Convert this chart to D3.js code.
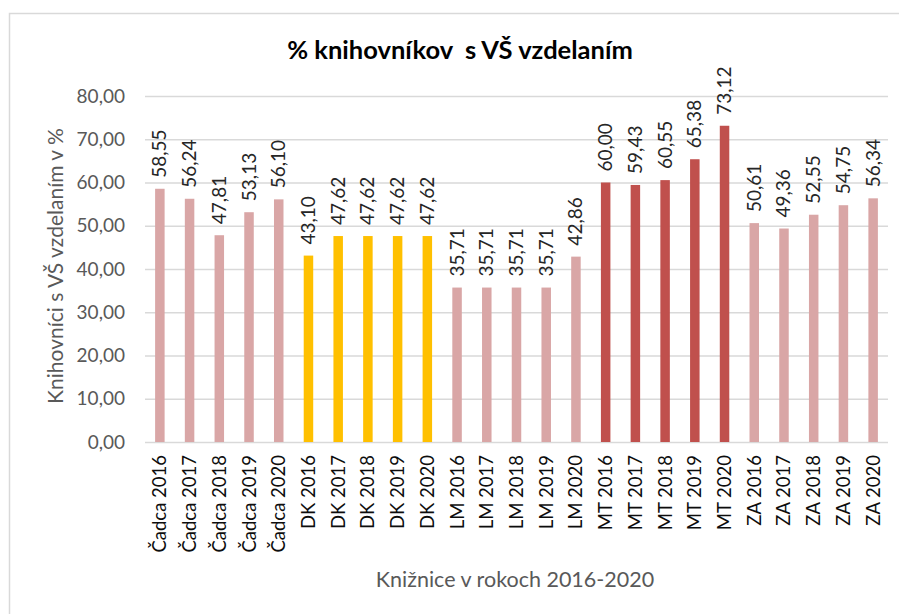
<!DOCTYPE html>
<html>
<head>
<meta charset="utf-8">
<script src="https://cdn.jsdelivr.net/npm/d3@7"></script>
<style>
  body { margin: 0; background: #fff; }
  text { font-family: Lato, "Open Sans", sans-serif; }
</style>
</head>
<body>
<div class="canvas"></div>
<script>
// data
let categories = [
    'Čadca 2016', 'Čadca 2017', 'Čadca 2018', 'Čadca 2019', 'Čadca 2020',
    'DK 2016', 'DK 2017', 'DK 2018', 'DK 2019', 'DK 2020',
    'LM 2016', 'LM 2017', 'LM 2018', 'LM 2019', 'LM 2020',
    'MT 2016', 'MT 2017', 'MT 2018', 'MT 2019', 'MT 2020',
    'ZA 2016', 'ZA 2017', 'ZA 2018', 'ZA 2019', 'ZA 2020'
]
let values = [
    58.55, 56.24, 47.81, 53.13, 56.10,
    43.10, 47.62, 47.62, 47.62, 47.62,
    35.71, 35.71, 35.71, 35.71, 42.86,
    60.00, 59.43, 60.55, 65.38, 73.12,
    50.61, 49.36, 52.55, 54.75, 56.34
]
let groups = ['Čadca', 'DK', 'LM', 'MT', 'ZA']
let groupColors = ['#D9A6A6', '#FFC000', '#D9A6A6', '#C0504D', '#D9A6A6']
let yTicks = [0, 10, 20, 30, 40, 50, 60, 70, 80]

let width = 899,
    height = 614,
    plotLeft = 145,
    plotRight = 888,
    plotTop = 96,
    plotBottom = 442

let svg = d3.select('.canvas').append('svg')
    .attr('width', width)
    .attr('height', height)

// chart border
svg.append('rect')
    .attr('x', 9.5).attr('y', 13.5)
    .attr('width', 1000).attr('height', 1000)
    .attr('fill', 'none')
    .attr('stroke', '#D9D9D9')
    .attr('stroke-width', 1.5)

let x = d3.scaleBand().domain(categories).range([plotLeft, plotRight])
let y = d3.scaleLinear().domain([0, 80]).range([plotBottom, plotTop])
let color = d3.scaleOrdinal().domain(groups).range(groupColors)
let fmt = v => d3.format('.2f')(v).replace('.', ',')

// grid + y labels
let yAxis = svg.append('g')
    .attr('transform', `translate(${plotLeft},0)`)
    .call(d3.axisLeft(y).tickValues(yTicks).tickSize(-(plotRight - plotLeft)).tickPadding(20).tickFormat(fmt))
yAxis.select('.domain').remove()
yAxis.selectAll('.tick line').attr('stroke', '#D9D9D9').attr('stroke-width', 1.3)
yAxis.selectAll('.tick text')
    .attr('fill', '#595959')
    .style('font-size', '19px')

// bars
let barW = 9.5
svg.selectAll('.bar')
    .data(categories)
    .enter().append('rect').classed('bar', true)
    .attr('x', d => x(d) + x.bandwidth() / 2 - barW / 2)
    .attr('width', barW)
    .attr('y', (d, i) => y(values[i]))
    .attr('height', (d, i) => plotBottom - y(values[i]))
    .attr('fill', d => color(d.split(' ')[0]))

// value labels
svg.selectAll('.val')
    .data(categories)
    .enter().append('text').classed('val', true)
    .attr('transform', (d, i) => `translate(${x(d) + x.bandwidth() / 2 + 6.5},${y(values[i]) - 11}) rotate(-90)`)
    .attr('fill', '#262626')
    .style('font-size', '19px')
    .text((d, i) => fmt(values[i]))

// category labels
svg.selectAll('.cat')
    .data(categories)
    .enter().append('text').classed('cat', true)
    .attr('transform', d => `translate(${x(d) + x.bandwidth() / 2 + 6.5},${plotBottom + 13}) rotate(-90)`)
    .attr('text-anchor', 'end')
    .attr('fill', '#0D0D0D')
    .style('font-size', '18.5px')
    .text(d => d)

// titles
svg.append('text')
    .attr('x', 460).attr('y', 59)
    .attr('text-anchor', 'middle')
    .style('font-size', '25.5px')
    .style('font-weight', 'bold')
    .style('white-space', 'pre')
    .attr('fill', '#000')
    .text('% knihovníkov  s VŠ vzdelaním')

svg.append('text')
    .attr('transform', 'translate(63,266) rotate(-90)')
    .attr('text-anchor', 'middle')
    .attr('fill', '#595959')
    .style('font-size', '21px')
    .text('Knihovníci s VŠ vzdelaním v %')

svg.append('text')
    .attr('x', 515).attr('y', 587)
    .attr('text-anchor', 'middle')
    .attr('fill', '#595959')
    .style('font-size', '21.5px')
    .text('Knižnice v rokoch 2016-2020')
</script>
</body>
</html>
